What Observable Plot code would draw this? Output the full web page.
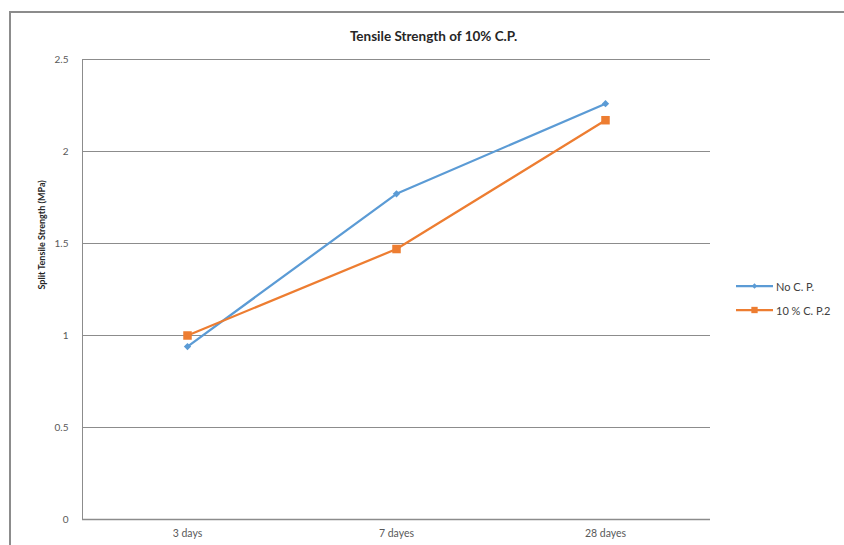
<!DOCTYPE html>
<html><head><meta charset="utf-8">
<script src="https://cdn.jsdelivr.net/npm/d3@7"></script>
<script src="https://cdn.jsdelivr.net/npm/@observablehq/plot@0.6"></script>
<style>
body{margin:0;background:#fff;}
#wrap{position:relative;width:844px;height:545px;overflow:hidden;font-family:Lato,"Open Sans",sans-serif;}
#border{position:absolute;left:9px;top:11px;width:840px;height:540px;border-left:2px solid #8c8c8c;border-top:2px solid #8c8c8c;pointer-events:none;}
#legend{position:absolute;left:736px;top:274px;font-size:11px;color:#404040;}
.item{display:flex;align-items:center;height:24px;}
.item svg{margin-right:2px;}
</style>
</head><body>
<div id="wrap"><div id="chart"></div><div id="border"></div><div id="legend"></div></div>
<script>
const categories = ["3 days", "7 dayes", "28 dayes"];
const noCP = [0.94, 1.77, 2.26];
const cp10 = [1.00, 1.47, 2.17];
const seriesNames = ["No C. P.", "10 % C. P.2"];
const seriesColors = ["#5B9BD5", "#ED7D31"];
const yTicks = [0, 0.5, 1, 1.5, 2, 2.5];
const titleText = "Tensile Strength of 10% C.P.";
const yLabel = "Split Tensile Strength (MPa)";

const rows = [];
categories.forEach((c, i) => {
  rows.push({cat: c, value: noCP[i], series: seriesNames[0]});
  rows.push({cat: c, value: cp10[i], series: seriesNames[1]});
});
const s0 = rows.filter(d => d.series === seriesNames[0]);
const s1 = rows.filter(d => d.series === seriesNames[1]);

const chart = Plot.plot({
  width: 844, height: 545,
  marginLeft: 82, marginRight: 134, marginTop: 59, marginBottom: 26,
  style: {fontFamily: "Lato, 'Open Sans', sans-serif", fontSize: "10px", color: "#595959", background: "white"},
  x: {type: "point", domain: categories, padding: 0.5},
  y: {domain: [0, 2.5], ticks: yTicks},
  marks: [
    Plot.gridY(yTicks, {stroke: "#8c8c8c", strokeOpacity: 1, strokeWidth: 1}),
    Plot.frame({anchor: "left", stroke: "#8c8c8c"}),
    Plot.ruleY([0], {stroke: "#8c8c8c", strokeWidth: 1.5}),
    Plot.axisY(yTicks, {tickSize: 0, tickPadding: 14, tickFormat: d => String(d), label: null, fill: "#595959", fontSize: 10}),
    Plot.axisX(categories, {tickSize: 0, tickPadding: 10, label: null, fill: "#595959", fontSize: 10.5}),
    Plot.line(s0, {x: "cat", y: "value", stroke: seriesColors[0], strokeWidth: 2.25}),
    Plot.line(s1, {x: "cat", y: "value", stroke: seriesColors[1], strokeWidth: 2.25}),
    Plot.dot(s0, {x: "cat", y: "value", symbol: "diamond2", r: 3.3, fill: seriesColors[0], stroke: null}),
    Plot.dot(s1, {x: "cat", y: "value", symbol: "square", r: 4.8, fill: seriesColors[1], stroke: null}),
    Plot.text([titleText], {frameAnchor: "top", dy: -28, dx: 37, fontWeight: "bold", fontSize: 13.5, fill: "#262626"}),
    Plot.text([yLabel], {frameAnchor: "left", rotate: -90, dx: -40, fontWeight: "bold", fontSize: 9, fill: "#262626"})
  ]
});
document.getElementById("chart").appendChild(chart);

const legend = document.getElementById("legend");
const syms = [d3.symbolDiamond2, d3.symbolSquare];
const symSizes = [18, 40];
seriesNames.forEach((name, i) => {
  const item = document.createElement("div");
  item.className = "item";
  const svg = d3.create("svg").attr("width", 38).attr("height", 10);
  svg.append("line").attr("x1", 0).attr("x2", 37).attr("y1", 5).attr("y2", 5)
    .attr("stroke", seriesColors[i]).attr("stroke-width", 2.25);
  svg.append("path").attr("d", d3.symbol(syms[i], symSizes[i])())
    .attr("transform", "translate(18.5,5)").attr("fill", seriesColors[i]);
  item.appendChild(svg.node());
  const span = document.createElement("span");
  span.textContent = name;
  item.appendChild(span);
  legend.appendChild(item);
});
</script>
</body></html>
